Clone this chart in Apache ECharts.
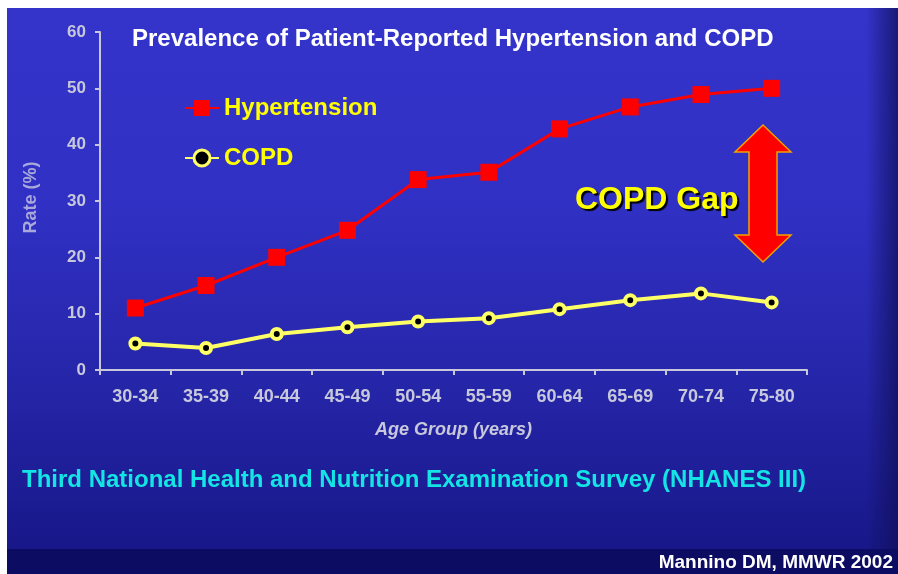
<!DOCTYPE html>
<html>
<head>
<meta charset="utf-8">
<script src="https://cdn.jsdelivr.net/npm/echarts@6/dist/echarts.min.js"></script>
<style>html,body{margin:0;padding:0;background:#fff}#c{width:898px;height:574px}</style>
</head>
<body>
<div id="c"></div>
<script>
const categories = ['30-34','35-39','40-44','45-49','50-54','55-59','60-64','65-69','70-74','75-80'];
const hypertension = [11.0, 15.0, 20.0, 24.8, 33.8, 35.1, 42.8, 46.7, 48.9, 50.0];
const copd = [4.7, 3.9, 6.4, 7.6, 8.6, 9.2, 10.8, 12.4, 13.6, 12.0];
const yTicks = {min: 0, max: 60, interval: 10};

const chart = echarts.init(document.getElementById('c'), null, {renderer: 'canvas'});
const F = 'Liberation Sans, Arial, sans-serif';
chart.setOption({
  animation: false,
  textStyle: {fontFamily: F},
  graphic: [
    {type: 'rect', z: -10, silent: true, shape: {x: 0, y: 0, width: 898, height: 574}, style: {fill: '#ffffff'}},
    {type: 'rect', z: -9, silent: true, shape: {x: 7, y: 8, width: 891, height: 566},
      style: {fill: new echarts.graphic.LinearGradient(0, 0, 0, 1, [
        {offset: 0, color: '#3434cb'},
        {offset: 0.35, color: '#3030c4'},
        {offset: 0.65, color: '#2626aa'},
        {offset: 0.95, color: '#18188a'},
        {offset: 1, color: '#161686'}
      ])}},
    {type: 'rect', z: -8, silent: true, shape: {x: 866, y: 8, width: 32, height: 566},
      style: {fill: new echarts.graphic.LinearGradient(0, 0, 1, 0, [
        {offset: 0, color: 'rgba(16,16,90,0)'},
        {offset: 1, color: 'rgba(16,16,90,0.75)'}
      ])}},
    {type: 'rect', z: -7, silent: true, shape: {x: 7, y: 549, width: 891, height: 25}, style: {fill: '#0c0c62'}},
    {type: 'polygon', z: 5, silent: true,
      shape: {points: [[763,125],[791,152],[777,152],[777,235],[791,235],[763,262],[735,235],[749,235],[749,152],[735,152]]},
      style: {fill: '#ff0000', stroke: '#f5a000', lineWidth: 1.5}},
    {type: 'text', z: 6, silent: true, left: 575, top: 184,
      style: {text: 'COPD Gap', fill: '#ffff00', font: 'bold 32px ' + F,
        textShadowColor: '#000000', textShadowOffsetX: 2, textShadowOffsetY: 2, textShadowBlur: 1}},
    {type: 'text', z: 6, silent: true, left: 22, top: 468,
      style: {text: 'Third National Health and Nutrition Examination Survey (NHANES III)', fill: '#14e4e4', font: 'bold 24px ' + F}},
    {type: 'text', z: 6, silent: true, right: 5, top: 553,
      style: {text: 'Mannino DM, MMWR 2002', fill: '#ffffff', font: 'bold 19px ' + F}}
  ],
  title: {
    text: 'Prevalence of Patient-Reported Hypertension and COPD',
    left: 127, top: 22,
    textStyle: {color: '#ffffff', fontSize: 24, fontWeight: 'bold', fontFamily: F}
  },
  legend: {
    orient: 'vertical', left: 184, top: 96, itemGap: 26, padding: 0,
    itemWidth: 34, itemHeight: 20,
    textStyle: {color: '#ffff00', fontSize: 24, fontWeight: 'bold', fontFamily: F},
    data: [
      {name: 'Hypertension'},
      {name: 'COPD', itemStyle: {borderWidth: 3, borderColor: '#ffff66', color: '#000000'}}
    ]
  },
  grid: {left: 100, right: 91, top: 32, bottom: 204, containLabel: false},
  xAxis: {
    type: 'category', data: categories, boundaryGap: true,
    name: 'Age Group (years)', nameLocation: 'middle', nameGap: 51,
    nameTextStyle: {color: '#c8c8dc', fontSize: 18, fontWeight: 'bold', fontStyle: 'italic', fontFamily: F},
    axisLine: {lineStyle: {color: '#c8c8dc', width: 2}},
    axisTick: {show: true, length: 5, lineStyle: {color: '#c8c8dc', width: 2}},
    axisLabel: {color: '#c8c8dc', fontSize: 18, fontWeight: 'bold', margin: 18, fontFamily: F}
  },
  yAxis: {
    type: 'value', min: yTicks.min, max: yTicks.max, interval: yTicks.interval,
    name: 'Rate (%)', nameLocation: 'middle', nameGap: 60, nameRotate: 90,
    nameTextStyle: {color: '#a8a8dc', fontSize: 18, fontWeight: 'bold', fontFamily: F, padding: [0, 0, 0, 7]},
    splitLine: {show: false},
    axisLine: {show: true, lineStyle: {color: '#c8c8dc', width: 2}},
    axisTick: {show: true, length: 5, lineStyle: {color: '#c8c8dc', width: 2}},
    axisLabel: {color: '#c8c8dc', fontSize: 17, fontWeight: 'bold', margin: 14, fontFamily: F}
  },
  series: [
    {
      name: 'Hypertension', type: 'line', data: hypertension,
      symbol: 'rect', symbolSize: 17,
      lineStyle: {color: '#ff0000', width: 3},
      itemStyle: {color: '#ff0000'}, z: 3
    },
    {
      name: 'COPD', type: 'line', data: copd,
      symbol: 'circle', symbolSize: 10, showAllSymbol: true,
      lineStyle: {color: '#ffff66', width: 4},
      itemStyle: {color: '#000000', borderColor: '#ffff66', borderWidth: 4}, z: 3
    }
  ]
});
</script>
</body>
</html>
